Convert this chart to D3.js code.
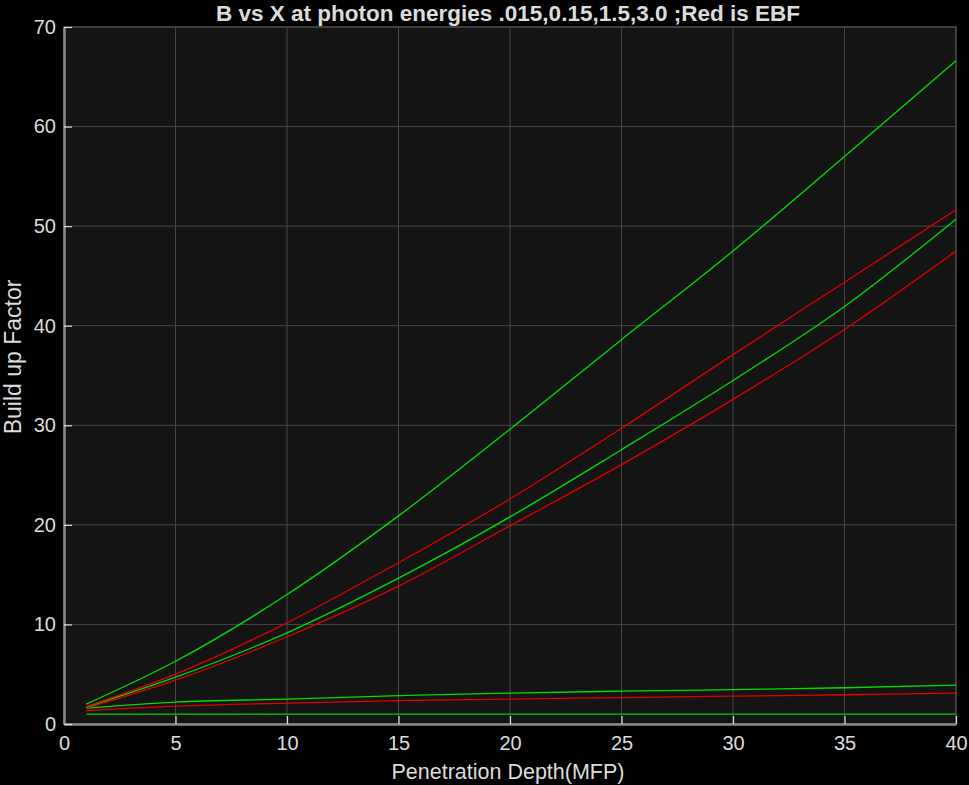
<!DOCTYPE html>
<html><head><meta charset="utf-8">
<script src="https://cdn.jsdelivr.net/npm/d3@7"></script>
<style>body{margin:0;background:#000;}svg{display:block;}</style>
</head><body>
<svg id="c" width="969" height="785"></svg>
<script>
const xValues = [1, 5, 10, 15, 20, 25, 30, 35, 40];
const greenTop   = [2.0, 6.3, 13.0, 20.9, 29.6, 38.6, 47.5, 57.0, 66.6];
const redUpper   = [1.75, 5.0, 10.16, 16.2, 22.6, 29.7, 37.1, 44.37, 51.65];
const greenMid   = [1.7, 4.7, 9.16, 14.65, 20.8, 27.55, 34.5, 41.93, 50.7];
const redLower   = [1.6, 4.4, 8.76, 13.85, 19.9, 26.05, 32.6, 39.62, 47.5];
const greenLow   = [1.6, 2.2, 2.5, 2.85, 3.1, 3.3, 3.46, 3.64, 3.9];
const redLow     = [1.35, 1.8, 2.1, 2.35, 2.5, 2.65, 2.79, 2.94, 3.1];
const greenFlat  = [1.0, 1.0, 1.0, 1.0, 1.0, 1.0, 1.0, 1.0, 1.0];
const xTicks = [0, 5, 10, 15, 20, 25, 30, 35, 40];
const yTicks = [0, 10, 20, 30, 40, 50, 60, 70];
const seriesList = [
  {vals: greenFlat, c: "#00cc00"},
  {vals: redLow, c: "#e00000"},
  {vals: greenLow, c: "#00dd00"},
  {vals: redLower, c: "#e00000"},
  {vals: greenMid, c: "#00dd00"},
  {vals: redUpper, c: "#e00000"},
  {vals: greenTop, c: "#00dd00"}
];
const title = "B vs X at photon energies .015,0.15,1.5,3.0 ;Red is EBF";
const xLabel = "Penetration Depth(MFP)";
const yLabel = "Build up Factor";

const svg = d3.select("#c");
const L = 64, R = 956, T = 27, B = 724;
const x = d3.scaleLinear().domain([0, 40]).range([L, R]);
const y = d3.scaleLinear().domain([0, 70]).range([B, T]);

svg.append("rect").attr("x", 0).attr("y", 0).attr("width", 969).attr("height", 785).attr("fill", "#000");
svg.append("rect").attr("x", L).attr("y", T).attr("width", R - L).attr("height", B - T).attr("fill", "#141414").attr("stroke", "#444").attr("stroke-width", 1.5);

// grid
svg.append("g").selectAll("line").data(xTicks.slice(1)).join("line")
  .attr("x1", d => x(d)).attr("x2", d => x(d)).attr("y1", T).attr("y2", B)
  .attr("stroke", "#484848").attr("stroke-width", 1);
svg.append("g").selectAll("line").data(yTicks.slice(1)).join("line")
  .attr("y1", d => y(d)).attr("y2", d => y(d)).attr("x1", L).attr("x2", R)
  .attr("stroke", "#484848").attr("stroke-width", 1);

// axes
const fontFam = "'Liberation Sans', Arial, sans-serif";
const xAxis = svg.append("g").attr("transform", `translate(0,${B})`)
  .call(d3.axisBottom(x).tickValues(xTicks).tickSizeInner(-8).tickSizeOuter(0).tickPadding(12));
const yAxis = svg.append("g").attr("transform", `translate(${L},0)`)
  .call(d3.axisLeft(y).tickValues(yTicks).tickSizeInner(-8).tickSizeOuter(0).tickPadding(8));
[xAxis, yAxis].forEach(g => {
  g.select(".domain").attr("stroke", "#8a8a8a").attr("stroke-width", 2.5);
  g.selectAll(".tick line").attr("stroke", "#e0e0e0").attr("stroke-width", 1.2);
  g.selectAll(".tick text").attr("fill", "#dcdcdc").attr("font-size", 20).attr("font-family", fontFam);
});

// lines
const line = d3.line().x((d, i) => x(xValues[i])).y(d => y(d)).curve(d3.curveMonotoneX);
svg.append("g").selectAll("path").data(seriesList).join("path")
  .attr("d", s => line(s.vals)).attr("fill", "none")
  .attr("stroke", s => s.c).attr("stroke-width", 1.3);

// texts
svg.append("text").attr("x", 508).attr("y", 21).attr("text-anchor", "middle")
  .attr("fill", "#dcdcdc").attr("font-size", 22.5).attr("font-weight", "bold").attr("font-family", fontFam).text(title);
svg.append("text").attr("x", 508).attr("y", 779).attr("text-anchor", "middle")
  .attr("fill", "#dcdcdc").attr("font-size", 21.5).attr("font-family", fontFam).text(xLabel);
svg.append("text").attr("transform", "translate(21,357) rotate(-90)").attr("text-anchor", "middle")
  .attr("fill", "#dcdcdc").attr("font-size", 23).attr("font-family", fontFam).text(yLabel);
</script>
</body></html>
